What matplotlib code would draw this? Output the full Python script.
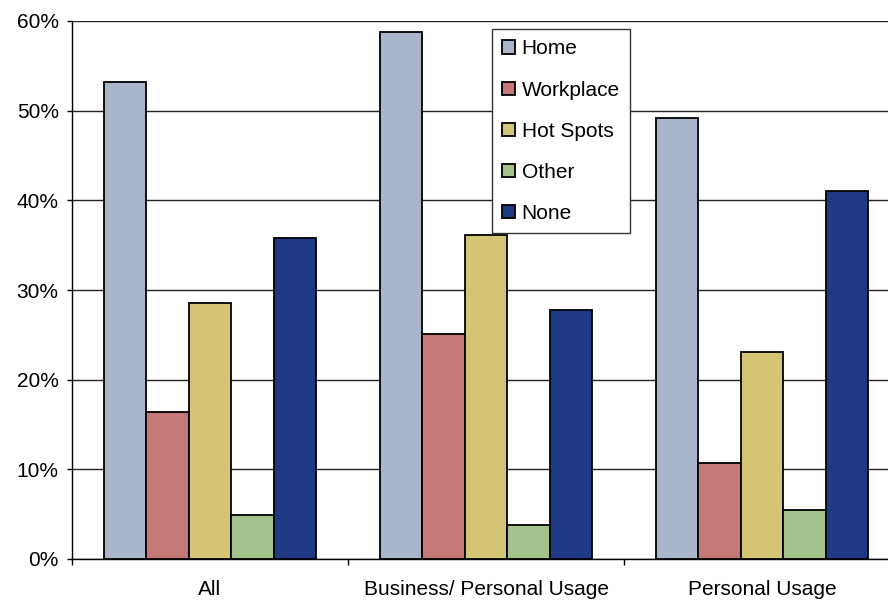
import numpy as np
import matplotlib
matplotlib.use("Agg")
import matplotlib.pyplot as plt
from matplotlib.ticker import FuncFormatter

plt.rcParams['font.family'] = ['Liberation Sans', 'DejaVu Sans']

groups = ["All", "Business/ Personal Usage", "Personal Usage"]
series = ["Home", "Workplace", "Hot Spots", "Other", "None"]
home = [53.2, 58.8, 49.2]
workplace = [16.4, 25.1, 10.7]
hot_spots = [28.5, 36.1, 23.1]
other = [4.9, 3.8, 5.5]
none = [35.8, 27.8, 41.0]
colors = ["#a9b6ca", "#c47878", "#d4c574", "#a3c28c", "#1f3a85"]

fig = plt.figure(figsize=(8.88, 6.02), dpi=100)
ax = fig.add_axes([72 / 888, 43 / 602, 816 / 888, 538 / 602])

x = np.arange(len(groups))
width = 0.1535
for i, (vals, name, col) in enumerate(zip([home, workplace, hot_spots, other, none], series, colors)):
    ax.bar(x + (i - 2) * width, vals, width, color=col, edgecolor="black",
           linewidth=1.3, label=name, zorder=3)

ax.set_yticks(np.arange(0, 61, 10))
ax.yaxis.set_major_formatter(FuncFormatter(lambda v, p: "%d%%" % v))
ax.grid(axis="y", color="#222222", linewidth=1.0, zorder=0)
ax.set_axisbelow(True)

for s in ["top", "right"]:
    ax.spines[s].set_visible(False)
ax.spines["left"].set_linewidth(1.0)
ax.spines["bottom"].set_linewidth(1.0)

ax.set_xticks(x)
ax.set_xticklabels(groups)
ax.set_xticks([-0.5, 0.5, 1.5, 2.5], minor=True)
ax.tick_params(axis="x", which="major", length=0, pad=15, labelsize=15)
ax.tick_params(axis="x", which="minor", length=4.5, direction="out", width=1)
ax.tick_params(axis="y", length=3.6, width=1, pad=6, labelsize=15)

# limits after the ticks, so set_xticks does not widen them
ax.set_ylim(0, 60)
ax.set_xlim(-0.5, -0.5 + 816 / 276)

leg = ax.legend(loc="upper left", bbox_to_anchor=(492 / 888, 1 - 29 / 602),
                bbox_transform=fig.transFigure, borderaxespad=0, fancybox=False,
                framealpha=1, edgecolor="#333333", fontsize=15,
                handlelength=0.6, handleheight=0.6, handletextpad=0.32,
                labelspacing=1.06, borderpad=0.5)
leg.get_frame().set_linewidth(1.0)

fig.savefig("out.png", dpi=100)
